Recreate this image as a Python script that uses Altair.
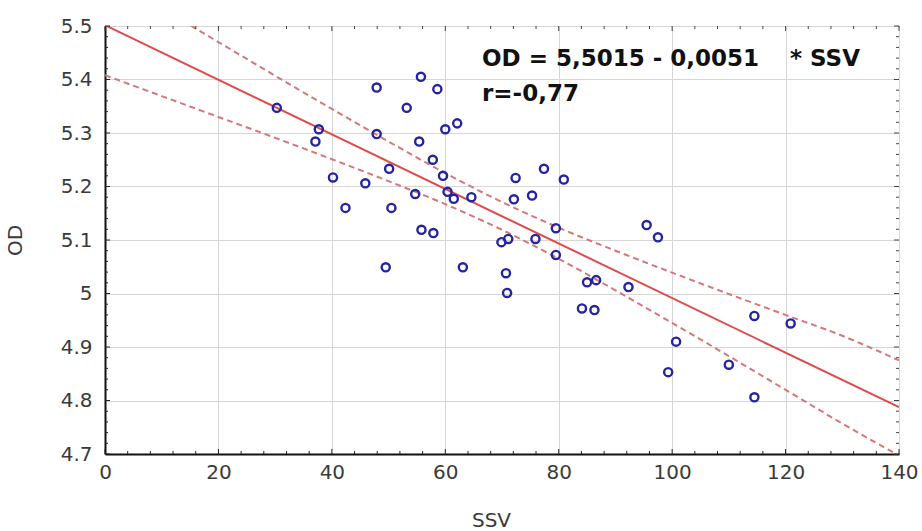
import altair as alt
import pandas as pd

# ---- data ----
ssv = [30.3, 37.7, 37.1, 40.2, 42.4, 45.9, 47.9, 47.9, 49.5, 50.1,
       50.5, 53.2, 54.7, 55.7, 55.4, 55.8, 57.9, 57.8, 58.6, 59.6,
       60.0, 60.4, 61.5, 62.1, 63.1, 64.6, 69.9, 71.1, 70.7, 70.9,
       72.1, 72.4, 75.3, 75.9, 77.4, 79.5, 79.5, 80.9, 84.1, 85.0,
       86.6, 86.3, 92.3, 95.5, 97.5, 100.7, 99.3, 110.0, 114.5, 114.5,
       120.9]
od = [5.347, 5.307, 5.284, 5.217, 5.160, 5.206, 5.385, 5.298, 5.049, 5.233,
      5.160, 5.347, 5.186, 5.405, 5.284, 5.119, 5.113, 5.250, 5.382, 5.220,
      5.307, 5.190, 5.177, 5.318, 5.049, 5.180, 5.096, 5.102, 5.038, 5.001,
      5.176, 5.216, 5.183, 5.102, 5.233, 5.122, 5.072, 5.213, 4.972, 5.021,
      5.025, 4.969, 5.012, 5.128, 5.105, 4.910, 4.853, 4.867, 4.958, 4.806,
      4.944]

# regression equation printed on the chart
intercept = 5.5015
slope = -0.0051
reg_x = [0, 140]
reg_y = [intercept + slope * v for v in reg_x]

# confidence band (dashed)
band_x = [0, 10, 20, 30, 40, 50, 60, 70, 80, 90, 100, 110, 120, 130, 140]
band_upper = [5.596, 5.533, 5.470, 5.407, 5.345, 5.284, 5.225, 5.171,
              5.123, 5.080, 5.039, 4.999, 4.960, 4.921, 4.875]
band_lower = [5.408, 5.369, 5.330, 5.291, 5.251, 5.210, 5.167, 5.119,
              5.065, 5.006, 4.945, 4.883, 4.820, 4.757, 4.697]

x_ticks = [0, 20, 40, 60, 80, 100, 120, 140]
y_ticks = [4.7, 4.8, 4.9, 5.0, 5.1, 5.2, 5.3, 5.4, 5.5]
x_minor = [v for v in range(0, 141, 4) if v % 20 != 0]
y_minor = [round(4.7 + 0.02 * i, 2) for i in range(41) if i % 5 != 0]

eq_text = "OD = 5,5015 - 0,0051"
eq_text2 = "* SSV"
r_text = "r=-0,77"

W, H = 794, 428
FONT = "DejaVu Sans"

xs = alt.Scale(domain=[0, 140], nice=False, zero=False)
ys = alt.Scale(domain=[4.7, 5.5], nice=False, zero=False)

x_axis = alt.Axis(values=x_ticks, format="d", grid=True, ticks=False,
                  domain=True, domainColor="#111", domainWidth=2,
                  labelFlush=False, labelOverlap=False,
                  labelPadding=8, titlePadding=28, titleX=386)
y_axis = alt.Axis(values=y_ticks, format=".1~f", grid=True, ticks=False,
                  domain=True, domainColor="#111", domainWidth=2,
                  labelOverlap=False, labelFlush=False,
                  labelPadding=13, titlePadding=35)


def X(field):
    return alt.X(field, type="quantitative", scale=xs, axis=x_axis, title="SSV")


def Y(field):
    return alt.Y(field, type="quantitative", scale=ys, axis=y_axis, title="OD")


pts_df = pd.DataFrame({"SSV": ssv, "OD": od})
reg_df = pd.DataFrame({"SSV": reg_x, "OD": reg_y})
band_df = pd.DataFrame({"SSV": band_x, "up": band_upper, "lo": band_lower})

points = alt.Chart(pts_df).mark_point(
    shape="circle", filled=False, size=66, strokeWidth=2.4,
    color="#2424a0", opacity=1
).encode(x=X("SSV"), y=Y("OD"))

reg_line = alt.Chart(reg_df).mark_line(
    color="#e04a4a", strokeWidth=2, clip=True
).encode(x=X("SSV"), y=Y("OD"))

upper = alt.Chart(band_df).mark_line(
    color="#d47878", strokeWidth=2, strokeDash=[6, 4], clip=True,
    interpolate="monotone"
).encode(x=X("SSV"), y=Y("up"))
lower = alt.Chart(band_df).mark_line(
    color="#d47878", strokeWidth=2, strokeDash=[6, 4], clip=True,
    interpolate="monotone"
).encode(x=X("SSV"), y=Y("lo"))


# inward ticks on all four sides
def xticks(vals, length):
    df = pd.DataFrame({"SSV": vals})
    bottom = alt.Chart(df).mark_rule(color="#222", strokeWidth=1).encode(
        x=X("SSV"), y=alt.value(H), y2=alt.value(H - length))
    top = alt.Chart(df).mark_rule(color="#444", strokeWidth=1).encode(
        x=X("SSV"), y=alt.value(0), y2=alt.value(length))
    return [bottom, top]


def yticks(vals, length):
    df = pd.DataFrame({"OD": vals})
    left = alt.Chart(df).mark_rule(color="#222", strokeWidth=1).encode(
        y=Y("OD"), x=alt.value(0), x2=alt.value(length))
    right = alt.Chart(df).mark_rule(color="#444", strokeWidth=1).encode(
        y=Y("OD"), x=alt.value(W), x2=alt.value(W - length))
    return [left, right]


tick_layers = (xticks(x_ticks, 5) + xticks(x_minor, 3)
               + yticks(y_ticks, 5) + yticks(y_minor, 3))


def label(txt, px, py):
    return alt.Chart(pd.DataFrame({"label": [txt]})).mark_text(
        font=FONT, fontSize=23, fontWeight="bold", color="#111",
        align="left", baseline="middle"
    ).encode(text="label:N", x=alt.value(px), y=alt.value(py))


texts = [label(eq_text, 377, 33), label(eq_text2, 685, 33), label(r_text, 377, 68)]

chart = alt.layer(
    upper, lower, reg_line, points, *tick_layers, *texts
).properties(
    width=W, height=H,
    autosize=alt.AutoSizeParams(type="none"),
    padding={"left": 105, "top": 26, "right": 23, "bottom": 77},
    background="white",
).configure_view(
    stroke="#333", strokeWidth=1
).configure_axis(
    gridColor="#d6d6d6", gridWidth=1,
    labelFont=FONT, labelFontSize=20, labelColor="#3a3a3a",
    titleFont=FONT, titleFontSize=20, titleColor="#3a3a3a", titleFontWeight="normal",
)

chart.save("out.html", embed_options={"renderer": "svg", "actions": False})
